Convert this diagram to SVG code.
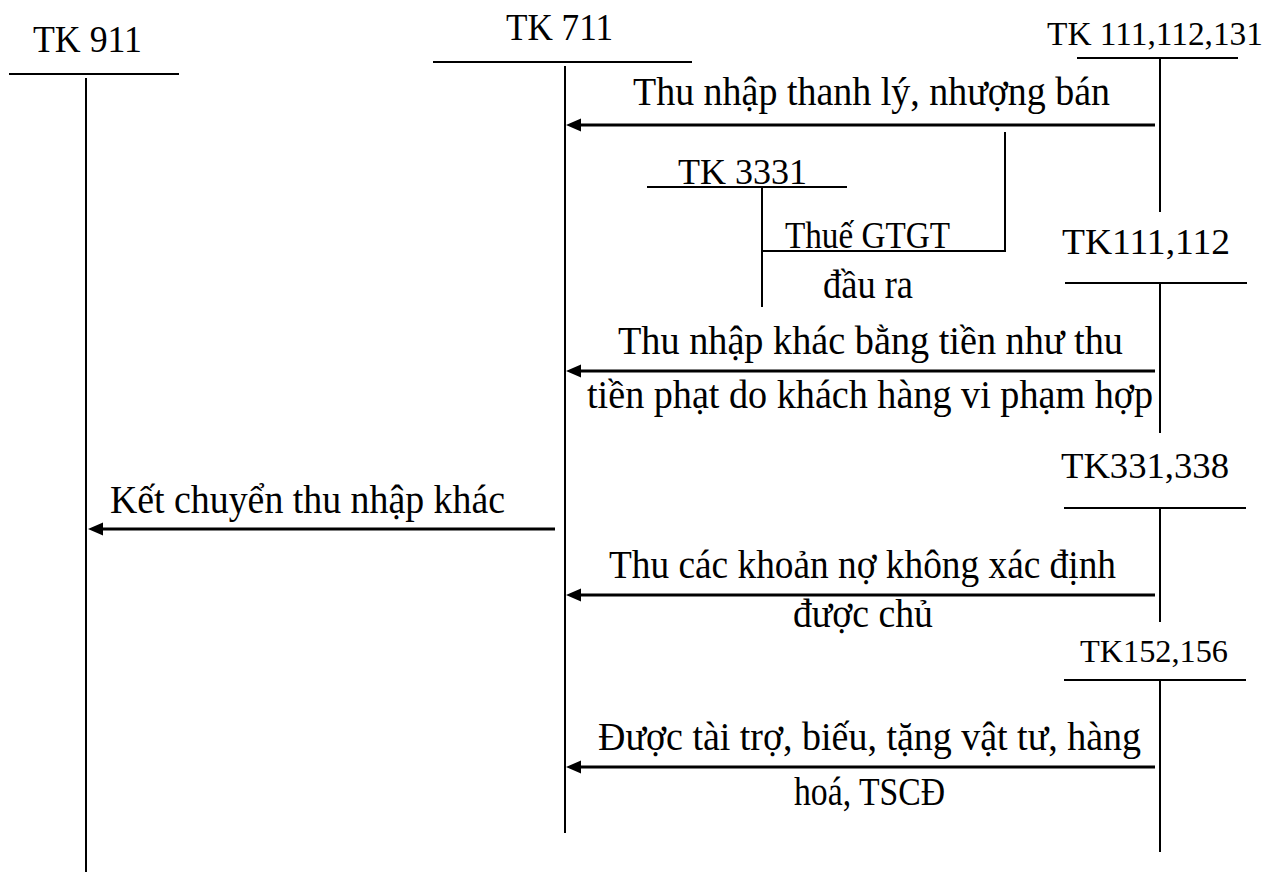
<svg xmlns="http://www.w3.org/2000/svg" width="1267" height="872" viewBox="0 0 1267 872">
<defs>
<style>
text{font-family:"Liberation Serif","Times New Roman",serif;font-size:39px;fill:#000}
.h{font-size:37px}
.h2{font-size:36px}
.s{font-size:33px}
.xs{font-size:31px}
.ax{stroke:#000;stroke-width:2;fill:none}
.ar{stroke:#000;stroke-width:3;fill:none}
.tk{stroke:#000;stroke-width:2;fill:none}
</style>
<marker id="ah" markerUnits="userSpaceOnUse" markerWidth="16" markerHeight="14" refX="7" refY="6.5" orient="auto">
<path d="M0,0 L15,6.5 L0,13 z" fill="#000"/>
</marker>
</defs>
<rect width="1267" height="872" fill="#fff"/>
<g id="tk911">
<text class="h" x="33" y="52" textLength="109" lengthAdjust="spacingAndGlyphs">TK 911</text>
<line class="ax" x1="9" y1="74" x2="179" y2="74"/>
<line class="ax" x1="86" y1="78" x2="86" y2="872"/>
</g>
<g id="tk711">
<text class="h" x="506" y="40" textLength="107" lengthAdjust="spacingAndGlyphs">TK 711</text>
<line class="ax" x1="433" y1="62" x2="692" y2="62"/>
<line class="ax" x1="565" y1="66" x2="565" y2="833"/>
</g>
<g id="tk111112131">
<text class="s" x="1047" y="45" textLength="216" lengthAdjust="spacingAndGlyphs">TK 111,112,131</text>
<line class="ax" x1="1077" y1="58" x2="1238" y2="58"/>
<line class="ax" x1="1160" y1="58" x2="1160" y2="212"/>
</g>
<g id="tk3331">
<text class="h2" x="678" y="184" textLength="129" lengthAdjust="spacingAndGlyphs">TK 3331</text>
<line class="ax" x1="647" y1="187" x2="847" y2="187"/>
<line class="ax" x1="762" y1="187" x2="762" y2="307"/>
</g>
<g id="tk111112">
<text class="h2" x="1062" y="254" textLength="168" lengthAdjust="spacingAndGlyphs">TK111,112</text>
<line class="ax" x1="1065" y1="283" x2="1247" y2="283"/>
<line class="ax" x1="1160" y1="283" x2="1160" y2="433"/>
</g>
<g id="tk331338">
<text class="h2" x="1061" y="478" textLength="168" lengthAdjust="spacingAndGlyphs">TK331,338</text>
<line class="ax" x1="1064" y1="508" x2="1246" y2="508"/>
<line class="ax" x1="1160" y1="508" x2="1160" y2="622"/>
</g>
<g id="tk152156">
<text class="xs" x="1080" y="662" textLength="148" lengthAdjust="spacingAndGlyphs">TK152,156</text>
<line class="ax" x1="1064" y1="680" x2="1246" y2="680"/>
<line class="ax" x1="1160" y1="680" x2="1160" y2="852"/>
</g>
<g id="connectors">
<line class="ar" x1="1155" y1="125" x2="574" y2="125" marker-end="url(#ah)"/>
<polyline class="tk" points="1005,132 1005,251 762,251"/>
<line class="ar" x1="1155" y1="371" x2="574" y2="371" marker-end="url(#ah)"/>
<line class="ar" x1="555" y1="529" x2="96" y2="529" marker-end="url(#ah)"/>
<line class="ar" x1="1155" y1="595" x2="574" y2="595" marker-end="url(#ah)"/>
<line class="ar" x1="1155" y1="767" x2="574" y2="767" marker-end="url(#ah)"/>
</g>
<g id="labels">
<text x="633" y="105" textLength="477" lengthAdjust="spacingAndGlyphs">Thu nhập thanh lý, nhượng bán</text>
<text class="h" x="785" y="248" textLength="165" lengthAdjust="spacingAndGlyphs">Thuế GTGT</text>
<text x="823" y="298" textLength="90" lengthAdjust="spacingAndGlyphs">đầu ra</text>
<text x="618" y="354" textLength="505" lengthAdjust="spacingAndGlyphs">Thu nhập khác bằng tiền như thu</text>
<text x="587" y="408" textLength="566" lengthAdjust="spacingAndGlyphs">tiền phạt do khách hàng vi phạm hợp</text>
<text x="110" y="513" textLength="395" lengthAdjust="spacingAndGlyphs">Kết chuyển thu nhập khác</text>
<text x="609" y="578" textLength="507" lengthAdjust="spacingAndGlyphs">Thu các khoản nợ không xác định</text>
<text x="793" y="627" textLength="140" lengthAdjust="spacingAndGlyphs">được chủ</text>
<text x="598" y="750" textLength="543" lengthAdjust="spacingAndGlyphs">Được tài trợ, biếu, tặng vật tư, hàng</text>
<text x="794" y="805" textLength="151" lengthAdjust="spacingAndGlyphs">hoá, TSCĐ</text>
</g>
</svg>
